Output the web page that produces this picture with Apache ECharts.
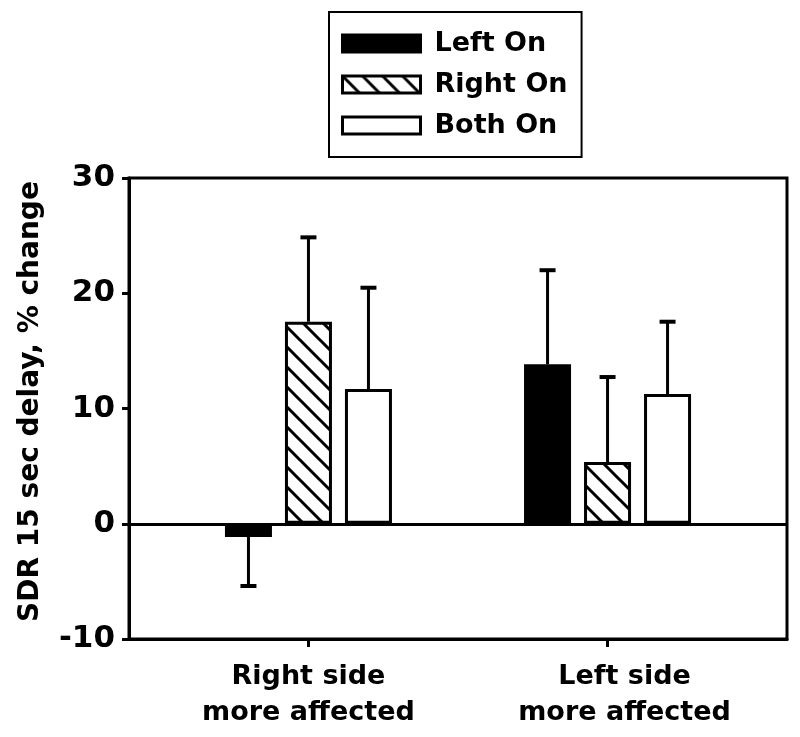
<!DOCTYPE html>
<html>
<head>
<meta charset="utf-8">
<script src="https://cdn.jsdelivr.net/npm/echarts@6/dist/echarts.min.js"></script>
<style>html,body{margin:0;padding:0;background:#fff}#c{width:800px;height:737px}</style>
</head>
<body>
<div id="c"></div>
<script>
// ---- data ----
const categories = ['Right side\nmore affected', 'Left side\nmore affected'];
const seriesNames = ['Left On', 'Right On', 'Both On'];
const leftOn = [-1.15, 13.83];
const rightOn = [17.53, 5.36];
const bothOn = [11.69, 11.26];
const leftOnErr = [4.25, 8.17];
const rightOnErr = [7.32, 7.37];
const bothOnErr = [8.79, 6.27];
const yMin = -10, yMax = 30, yStep = 10;
const yTitle = 'SDR 15 sec delay, % change';

// ---- style ----
const FONT = 'DejaVu Sans';
const BAR_W = 47;
const BAR_GAP = 13 / 47;
const SPACING = BAR_W * (1 + BAR_GAP);

function hatch() {
  const s = 20;
  const c = document.createElement('canvas');
  c.width = s; c.height = s;
  const g = c.getContext('2d');
  g.fillStyle = '#fff'; g.fillRect(0, 0, s, s);
  g.strokeStyle = '#000'; g.lineWidth = 3;
  g.beginPath();
  for (const o of [-s, 0, s]) { g.moveTo(o - 2, -2); g.lineTo(o + s + 2, s + 2); }
  g.stroke();
  return c;
}
const fills = ['#000', { image: hatch(), repeat: 'repeat' }, '#fff'];
const values = [leftOn, rightOn, bothOn];
const errs = [leftOnErr, rightOnErr, bothOnErr];

const series = [];
values.forEach((vals, k) => {
  const s = {
    name: seriesNames[k], type: 'bar', barWidth: BAR_W, barGap: (BAR_GAP * 100) + '%',
    data: vals.map((v, i) => [i + 1, v]),
    itemStyle: { color: fills[k], borderColor: '#000', borderWidth: 3 },
    emphasis: { disabled: true }, z: 2
  };
  if (k === 0) {
    s.markLine = { silent: true, symbol: 'none', label: { show: false },
      lineStyle: { color: '#000', width: 3, type: 'solid' }, data: [{ yAxis: 0 }] };
  }
  series.push(s);
});
values.forEach((vals, k) => {
  series.push({
    name: seriesNames[k] + ' error', type: 'custom', z: 3, silent: true,
    data: vals.map((v, i) => [i + 1, v, errs[k][i]]),
    renderItem: (params, api) => {
      const x = api.value(0), v = api.value(1), e = api.value(2);
      const end = v >= 0 ? v + e : v - e;
      const p0 = api.coord([x, v]), p1 = api.coord([x, end]);
      const cx = p0[0] + (k - 1) * SPACING;
      const st = { stroke: '#000', lineWidth: 3, fill: null };
      return { type: 'group', children: [
        { type: 'line', shape: { x1: cx, y1: p0[1], x2: cx, y2: p1[1] }, style: st },
        { type: 'line', shape: { x1: cx - 8, y1: p1[1], x2: cx + 8, y2: p1[1] }, style: { stroke: '#000', lineWidth: 4 } }
      ]};
    }
  });
});

const chart = echarts.init(document.getElementById('c'), null, { renderer: 'canvas' });
chart.setOption({
  animation: false,
  backgroundColor: '#fff',
  grid: { left: 129, right: 13, top: 178, bottom: 98, show: true, borderColor: '#000', borderWidth: 3, backgroundColor: 'transparent' },
  legend: {
    data: seriesNames, orient: 'vertical', left: 329, top: 12,
    padding: [18, 14, 18, 12], itemWidth: 78, itemHeight: 17, itemGap: 14,
    borderColor: '#000', borderWidth: 2, icon: 'rect',
    itemStyle: { borderColor: '#000', borderWidth: 3 },
    textStyle: { fontFamily: FONT, fontWeight: 'bold', fontSize: 27, color: '#000', lineHeight: 27, padding: [0, 0, 0, 9] }
  },
  xAxis: {
    type: 'value', min: 0.4, max: 2.6,
    axisLine: { onZero: false, lineStyle: { color: '#000', width: 3 } },
    axisTick: { show: true, customValues: [1, 2], length: 8, lineStyle: { color: '#000', width: 3 } },
    axisLabel: { customValues: [1, 2],
      formatter: v => {
        const i = Math.round(v) - 1;
        const lines = (categories[i] || '').split('\n');
        const tag = i === 1 ? 's' : 'n';
        return lines.map(l => '{' + tag + '|' + l + '}').join('\n');
      },
      rich: {
        n: { fontFamily: FONT, fontWeight: 'bold', fontSize: 27, color: '#000', lineHeight: 36 },
        s: { fontFamily: FONT, fontWeight: 'bold', fontSize: 27, color: '#000', lineHeight: 36, padding: [0, 0, 0, 34] }
      },
      margin: 20, fontFamily: FONT, fontWeight: 'bold', fontSize: 27, color: '#000', lineHeight: 36 },
    splitLine: { show: false }
  },
  yAxis: {
    type: 'value', min: yMin, max: yMax, interval: yStep,
    name: yTitle, nameLocation: 'middle', nameRotate: 90, nameGap: 84,
    nameTextStyle: { fontFamily: FONT, fontWeight: 'bold', fontSize: 28, color: '#000', padding: [0, 0, 0, 14] },
    axisLine: { show: true, onZero: false, lineStyle: { color: '#000', width: 3 } },
    axisTick: { show: true, length: 7, lineStyle: { color: '#000', width: 3 } },
    axisLabel: { margin: 14, fontFamily: FONT, fontWeight: 'bold', fontSize: 31, color: '#000' },
    splitLine: { show: false }
  },
  series: series
});
</script>
</body>
</html>
